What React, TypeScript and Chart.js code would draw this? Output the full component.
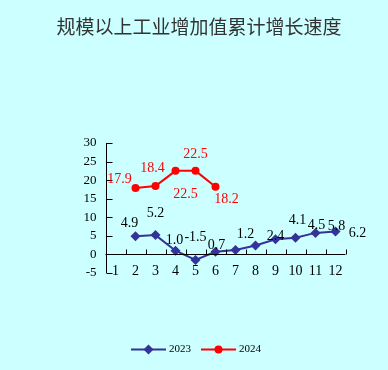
import React, { useEffect, useRef } from "react";
import { Chart, registerables } from "chart.js";

Chart.register(...registerables);

const TITLE = "规模以上工业增加值累计增长速度";
const months = ["1", "2", "3", "4", "5", "6", "7", "8", "9", "10", "11", "12"];
const series2023 = [null, 4.9, 5.2, 1.0, -1.5, 0.7, 1.2, 2.4, 4.1, 4.5, 5.8, 6.2];
const series2024 = [null, 17.9, 18.4, 22.5, 22.5, 18.2, null, null, null, null, null, null];
const labels2023 = ["", "4.9", "5.2", "1.0", "-1.5", "0.7", "1.2", "2.4", "4.1", "4.5", "5.8", "6.2"];
const labels2024 = ["", "17.9", "18.4", "22.5", "22.5", "18.2", "", "", "", "", "", ""];
const yMin = -5;
const yMax = 30;
const yStep = 5;

// label offsets (style, in px) relative to each point
const off2023: [number, number][] = [
  [0, 0], [-6, -13], [0, -22], [-1, -10], [0, -23], [1, -7], [10, -16], [20, -9], [22, -19], [21, -12], [21, -7], [22, 2],
];
const off2024: [number, number][] = [
  [0, 0], [-16, -9], [-3, -18], [10, 23], [0, -17], [11, 12], [0, 0], [0, 0], [0, 0], [0, 0], [0, 0], [0, 0],
];

const BLUE = "#333399";
const RED = "#ff0000";
const NUM_FONT = "Liberation Serif";

const decorPlugin = {
  id: "decor",
  afterDatasetsDraw(chart: any) {
    const ctx = chart.ctx as CanvasRenderingContext2D;
    const { chartArea } = chart;
    const x = chart.scales.x;
    const y = chart.scales.y;
    ctx.save();
    // title
    ctx.fillStyle = "#333333";
    ctx.font = '19px "Noto Sans CJK SC"';
    ctx.textAlign = "center";
    ctx.textBaseline = "middle";
    ctx.fillText(TITLE, 199, 27);

    // y axis line + inside ticks
    ctx.strokeStyle = "#000000";
    ctx.lineWidth = 1;
    const ax = Math.round(chartArea.left) + 0.5;
    ctx.beginPath();
    ctx.moveTo(ax, y.getPixelForValue(yMax));
    ctx.lineTo(ax, y.getPixelForValue(yMin));
    for (let v = yMin; v <= yMax; v += yStep) {
      const py = Math.round(y.getPixelForValue(v)) + 0.5;
      ctx.moveTo(ax, py);
      ctx.lineTo(ax + 6, py);
    }
    // zero line with ticks at category boundaries
    const zy = Math.round(y.getPixelForValue(0)) + 0.5;
    ctx.moveTo(chartArea.left, zy);
    ctx.lineTo(chartArea.right, zy);
    const n = months.length;
    const half = (x.getPixelForTick(1) - x.getPixelForTick(0)) / 2;
    for (let i = 0; i < n; i++) {
      const c = x.getPixelForTick(i);
      const bx = Math.round(c + half) + 0.5;
      ctx.moveTo(bx, zy);
      ctx.lineTo(bx, zy - 5);
    }
    ctx.stroke();

    // category labels along the bottom of the plot
    ctx.fillStyle = "#000000";
    ctx.font = `14px "${NUM_FONT}"`;
    ctx.textAlign = "center";
    ctx.textBaseline = "middle";
    const labelY = y.getPixelForValue(yMin) - 2;
    for (let i = 0; i < n; i++) {
      ctx.fillText(x.getLabelForValue(i), x.getPixelForTick(i), labelY);
    }

    // data labels
    const drawLabels = (dsIndex: number, labels: string[], offs: [number, number][], color: string) => {
      const meta = chart.getDatasetMeta(dsIndex);
      ctx.fillStyle = color;
      meta.data.forEach((pt: any, i: number) => {
        if (!labels[i]) return;
        ctx.fillText(labels[i], pt.x + offs[i][0], pt.y + offs[i][1]);
      });
    };
    drawLabels(0, labels2023, off2023, "#000000");
    drawLabels(1, labels2024, off2024, RED);

    // legend
    const ly = 349.5;
    const items = [
      { x: 131, color: BLUE, style: "rectRot", r: 5, text: "2023" },
      { x: 201, color: RED, style: "circle", r: 4, text: "2024" },
    ];
    items.forEach((it) => {
      ctx.strokeStyle = it.color;
      ctx.lineWidth = 2;
      ctx.beginPath();
      ctx.moveTo(it.x, ly);
      ctx.lineTo(it.x + 35, ly);
      ctx.stroke();
      ctx.fillStyle = it.color;
      ctx.beginPath();
      if (it.style === "circle") {
        ctx.arc(it.x + 17.5, ly, it.r, 0, Math.PI * 2);
      } else {
        ctx.moveTo(it.x + 17.5, ly - it.r);
        ctx.lineTo(it.x + 17.5 + it.r, ly);
        ctx.lineTo(it.x + 17.5, ly + it.r);
        ctx.lineTo(it.x + 17.5 - it.r, ly);
        ctx.closePath();
      }
      ctx.fill();
      ctx.fillStyle = "#000000";
      ctx.font = `11px "${NUM_FONT}"`;
      ctx.textAlign = "left";
      ctx.fillText(it.text, it.x + 38, ly);
    });
    ctx.restore();
  },
};

export default function App() {
  const ref = useRef<HTMLCanvasElement | null>(null);
  useEffect(() => {
    if (!ref.current) return;
    const chart = new Chart(ref.current, {
      type: "line",
      data: {
        labels: months,
        datasets: [
          {
            label: "2023",
            data: series2023,
            borderColor: BLUE,
            backgroundColor: BLUE,
            borderWidth: 2,
            pointStyle: "rectRot",
            pointRadius: 5,
            pointBorderWidth: 0,
          },
          {
            label: "2024",
            data: series2024,
            borderColor: RED,
            backgroundColor: RED,
            borderWidth: 2,
            pointStyle: "circle",
            pointRadius: 4,
            pointBorderWidth: 0,
          },
        ],
      },
      options: {
        responsive: false,
        animation: false,
        layout: { padding: { left: 0, right: 42.5, top: 143, bottom: 97 } },
        plugins: {
          legend: { display: false },
          title: { display: false },
          tooltip: { enabled: false },
        },
        scales: {
          x: {
            type: "category",
            offset: true,
            grid: { display: false, drawTicks: false },
            border: { display: false },
            ticks: { display: false },
            afterFit: (s: any) => {
              s.height = 0;
            },
          },
          y: {
            min: yMin,
            max: yMax,
            grid: { display: false, drawTicks: false },
            border: { display: false },
            ticks: {
              stepSize: yStep,
              autoSkip: false,
              padding: 9,
              color: "#000000",
              font: { family: NUM_FONT, size: 13 },
            },
            afterFit: (s: any) => {
              s.width = 105.5;
            },
          },
        },
      },
      plugins: [decorPlugin],
    });
    return () => chart.destroy();
  }, []);
  return (
    <div
      style={{
        position: "fixed",
        left: 0,
        top: 0,
        width: 388,
        height: 370,
        background: "#ccffff",
      }}
    >
      <canvas ref={ref} width={388} height={370} style={{ width: 388, height: 370, display: "block" }} />
    </div>
  );
}
